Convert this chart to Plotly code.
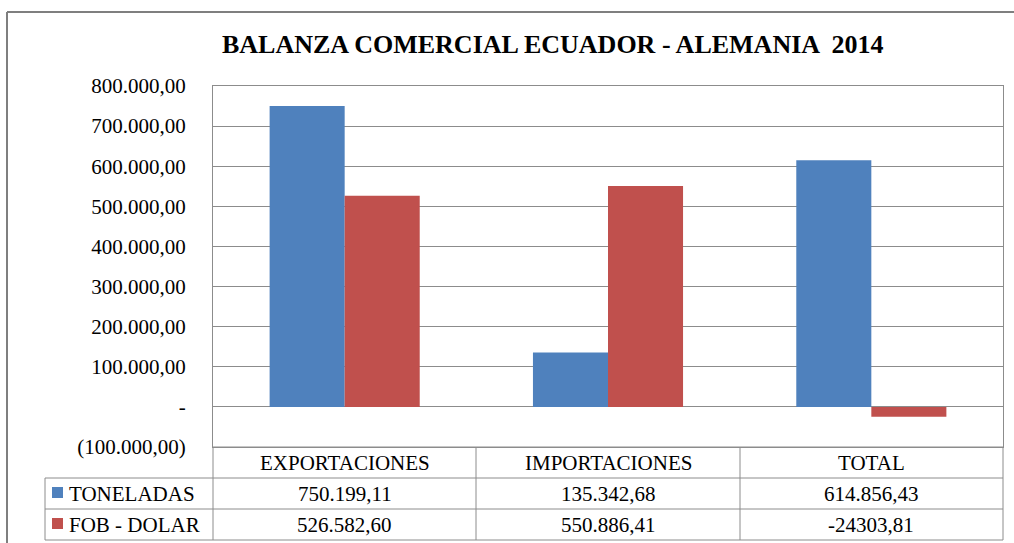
import plotly.graph_objects as go

categories = ["EXPORTACIONES", "IMPORTACIONES", "TOTAL"]
series_names = ["TONELADAS", "FOB - DOLAR"]
toneladas = [750199.11, 135342.68, 614856.43]
fob_dolar = [526582.60, 550886.41, -24303.81]
toneladas_labels = ["750.199,11", "135.342,68", "614.856,43"]
fob_labels = ["526.582,60", "550.886,41", "-24303,81"]
tick_vals = [800000, 700000, 600000, 500000, 400000, 300000, 200000, 100000, 0, -100000]
tick_text = ["800.000,00", "700.000,00", "600.000,00", "500.000,00", "400.000,00",
             "300.000,00", "200.000,00", "100.000,00", "-", "(100.000,00)"]
colors = ["#4F81BD", "#C0504D"]
title = "BALANZA COMERCIAL ECUADOR - ALEMANIA  2014"

W, H = 1014, 543
FONT = "'Times New Roman', 'Liberation Serif', Tinos, serif"

def px(x):
    return x / W

def py(y):
    return 1 - y / H

plot_l, plot_r, plot_t, plot_b = 213, 1003, 86, 447

fig = go.Figure()
fig.add_trace(go.Bar(x=categories, y=toneladas, name=series_names[0],
                     marker=dict(color=colors[0], line=dict(width=0))))
fig.add_trace(go.Bar(x=categories, y=fob_dolar, name=series_names[1],
                     marker=dict(color=colors[1], line=dict(width=0))))

grid = "#8c8c8c"
shapes = []
shapes.append(dict(type="line", xref="paper", yref="paper", x0=px(7), x1=px(1014), y0=py(12), y1=py(12),
                   line=dict(color="#7f7f7f", width=2)))
shapes.append(dict(type="line", xref="paper", yref="paper", x0=px(7), x1=px(7), y0=py(12), y1=py(543),
                   line=dict(color="#7f7f7f", width=2)))
row_y = [447, 478, 509, 540]
col_x = [213, 476, 740, 1003]
for i, y in enumerate(row_y):
    x0 = plot_l if i == 0 else 45
    shapes.append(dict(type="line", xref="paper", yref="paper", x0=px(x0), x1=px(plot_r), y0=py(y), y1=py(y),
                       line=dict(color=grid, width=1)))
for x in col_x:
    shapes.append(dict(type="line", xref="paper", yref="paper", x0=px(x), x1=px(x), y0=py(447), y1=py(540),
                       line=dict(color=grid, width=1)))
shapes.append(dict(type="line", xref="paper", yref="paper", x0=px(45), x1=px(45), y0=py(478), y1=py(540),
                   line=dict(color=grid, width=1)))
for i, c in enumerate(colors):
    yc = 492.5 + 31 * i
    shapes.append(dict(type="rect", xref="paper", yref="paper", x0=px(52), x1=px(63),
                       y0=py(yc - 5.5), y1=py(yc + 5.5), fillcolor=c, line=dict(width=0)))

annotations = []
annotations.append(dict(text="<b>" + title + "</b>", xref="paper", yref="paper", x=px(553), y=py(44),
                        showarrow=False, xanchor="center", yanchor="middle",
                        font=dict(family=FONT, size=26, color="black")))
for cat in categories:
    annotations.append(dict(text=cat, xref="x", yref="paper", x=cat, y=py(463),
                            showarrow=False, xanchor="center", yanchor="middle",
                            font=dict(family=FONT, size=21, color="black")))
for row, labels in enumerate([toneladas_labels, fob_labels]):
    yc = 494 + 31 * row
    annotations.append(dict(text=series_names[row], xref="paper", yref="paper", x=px(67), y=py(yc),
                            showarrow=False, xanchor="left", yanchor="middle",
                            font=dict(family=FONT, size=21, color="black")))
    for cat, lab in zip(categories, labels):
        annotations.append(dict(text=lab, xref="x", yref="paper", x=cat, y=py(yc),
                                showarrow=False, xanchor="center", yanchor="middle",
                                font=dict(family=FONT, size=21, color="black")))

fig.update_layout(
    width=W, height=H, autosize=False,
    margin=dict(l=0, r=0, t=0, b=0, pad=0, autoexpand=False),
    paper_bgcolor="white", plot_bgcolor="white",
    font=dict(family=FONT),
    barmode="group", bargap=0.43, bargroupgap=0,
    showlegend=False,
    shapes=shapes, annotations=annotations,
    xaxis=dict(domain=[px(plot_l), px(plot_r)], showticklabels=False, ticks="", automargin=False,
               showgrid=False, zeroline=False, showline=True, linecolor=grid, mirror=True),
    yaxis=dict(domain=[py(plot_b), py(plot_t)], range=[-100000, 800000], automargin=False,
               tickvals=tick_vals, ticktext=tick_text, ticks="",
               tickfont=dict(family=FONT, size=21, color="black"),
               ticklabelstandoff=22,
               showgrid=True, gridcolor=grid, gridwidth=1,
               zeroline=True, zerolinecolor=grid, zerolinewidth=1,
               showline=True, linecolor=grid, mirror=True),
)

fig.write_html("out.html", config={"displayModeBar": False},
               post_script="document.body.style.margin='0';document.body.style.overflow='hidden';")
